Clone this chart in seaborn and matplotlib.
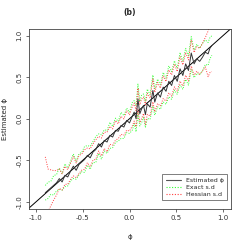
import numpy as np
import pandas as pd
import seaborn as sns
import matplotlib.pyplot as plt
from matplotlib.lines import Line2D

# true phi values and the estimates
phi = [-0.90, -0.87, -0.84, -0.81, -0.78, -0.75, -0.72, -0.69, -0.66, -0.63,
       -0.60, -0.57, -0.54, -0.51, -0.48, -0.45, -0.42, -0.39, -0.36, -0.33,
       -0.30, -0.27, -0.24, -0.21, -0.18, -0.15, -0.12, -0.09, -0.06, -0.03,
       0.00, 0.03, 0.05, 0.07, 0.09, 0.11, 0.13, 0.15, 0.17, 0.19,
       0.22, 0.25, 0.27, 0.30, 0.33, 0.36, 0.39, 0.42, 0.45, 0.48,
       0.51, 0.54, 0.57, 0.60, 0.63, 0.66, 0.69, 0.72, 0.75, 0.78,
       0.81, 0.84, 0.86, 0.88]
estimated = [-0.89, -0.86, -0.83, -0.80, -0.77, -0.72, -0.76, -0.68, -0.70, -0.63,
             -0.57, -0.62, -0.55, -0.52, -0.49, -0.44, -0.47, -0.40, -0.37, -0.30,
             -0.34, -0.26, -0.28, -0.20, -0.22, -0.14, -0.15, -0.08, -0.10, -0.02,
             -0.05, 0.03, 0.08, 0.00, 0.24, 0.06, 0.12, 0.16, 0.05, 0.18,
             0.14, 0.34, 0.20, 0.31, 0.26, 0.38, 0.33, 0.45, 0.40, 0.52,
             0.45, 0.60, 0.52, 0.66, 0.58, 0.79, 0.66, 0.72, 0.69, 0.74,
             0.80, 0.78, 0.85, 0.88]
exact_sd = [0.045, 0.05, 0.04, 0.06, 0.05, 0.065, 0.05, 0.07, 0.055, 0.06,
            0.075, 0.055, 0.065, 0.06, 0.08, 0.06, 0.07, 0.065, 0.08, 0.06,
            0.075, 0.065, 0.07, 0.08, 0.065, 0.075, 0.06, 0.08, 0.07, 0.075,
            0.065, 0.085, 0.07, 0.08, 0.09, 0.075, 0.085, 0.07, 0.08, 0.09,
            0.075, 0.095, 0.08, 0.085, 0.075, 0.09, 0.08, 0.095, 0.085, 0.09,
            0.08, 0.1, 0.085, 0.095, 0.09, 0.1, 0.085, 0.09, 0.08, 0.085,
            0.075, 0.07, 0.065, 0.06]
hessian_sd = [0.22, 0.13, 0.11, 0.09, 0.075, 0.06, 0.05, 0.055, 0.045, 0.05,
              0.06, 0.045, 0.055, 0.05, 0.06, 0.045, 0.055, 0.05, 0.06, 0.045,
              0.055, 0.05, 0.06, 0.055, 0.05, 0.06, 0.045, 0.055, 0.05, 0.06,
              0.05, 0.06, 0.055, 0.05, 0.065, 0.055, 0.06, 0.05, 0.06, 0.065,
              0.055, 0.07, 0.06, 0.065, 0.055, 0.07, 0.06, 0.07, 0.065, 0.07,
              0.06, 0.075, 0.065, 0.07, 0.065, 0.08, 0.07, 0.075, 0.08, 0.085,
              0.09, 0.14, 0.15, 0.16]

df = pd.DataFrame({"phi": phi, "est": estimated,
                   "exact": exact_sd, "hess": hessian_sd})
df["ex_lo"] = df["est"] - 1.96 * df["exact"]
df["ex_hi"] = df["est"] + 1.96 * df["exact"]
df["he_lo"] = df["est"] - 1.96 * df["hess"]
df["he_hi"] = df["est"] + 1.96 * df["hess"]

sns.set_style("ticks")
plt.rcParams["font.family"] = ["DejaVu Sans"]

fig = plt.figure(figsize=(2.45, 2.45), dpi=100)
ax = fig.add_axes([0.118, 0.147, 0.825, 0.735])

dots = (0, (1, 1.5))
ax.axline((0, 0), slope=1, color="black", lw=0.7)
for col, c in [("ex_hi", "#33ff33"), ("ex_lo", "#33ff33"),
               ("he_hi", "#ff4040"), ("he_lo", "#ff4040")]:
    sns.lineplot(data=df, x="phi", y=col, ax=ax, color=c, lw=0.7,
                 linestyle=dots, estimator=None, sort=False)
sns.lineplot(data=df, x="phi", y="est", ax=ax, color="#333333", lw=0.7,
             estimator=None, sort=False)

ax.set_xlim(-1.075, 1.085)
ax.set_ylim(-1.085, 1.08)
ax.set_xticks([-1.0, -0.5, 0.0, 0.5, 1.0])
ax.set_yticks([-1.0, -0.5, 0.0, 0.5, 1.0])
ax.set_xticklabels(["-1.0", "-0.5", "0.0", "0.5", "1.0"])
ax.set_yticklabels(["-1.0", "-0.5", "0.0", "0.5", "1.0"], rotation=90, va="center")
ax.tick_params(labelsize=5, length=2.5, width=0.5, pad=2, colors="#333333")
for s in ax.spines.values():
    s.set_visible(True)
    s.set_linewidth(0.6)
    s.set_color("#444444")

ax.set_xlabel("ϕ", fontsize=5, labelpad=9)
ax.set_ylabel("Estimated ϕ", fontsize=5, labelpad=6)
ax.set_title("(b)", fontsize=5.5, fontweight="bold", pad=10)

handles = [Line2D([], [], color="#555555", lw=0.8),
           Line2D([], [], color="#33ff33", lw=0.8, linestyle=dots),
           Line2D([], [], color="#ff4040", lw=0.8, linestyle=dots)]
leg = ax.legend(handles, ["Estimated ϕ", "Exact s.d", "Hessian s.d"],
                loc="lower right", fontsize=4.5, frameon=True, fancybox=False,
                handlelength=2.5, borderpad=0.5, labelspacing=0.3,
                bbox_to_anchor=(0.997, 0.03))
leg.get_frame().set_edgecolor("#444444")
leg.get_frame().set_linewidth(0.6)

fig.savefig("out.png", dpi=100)
